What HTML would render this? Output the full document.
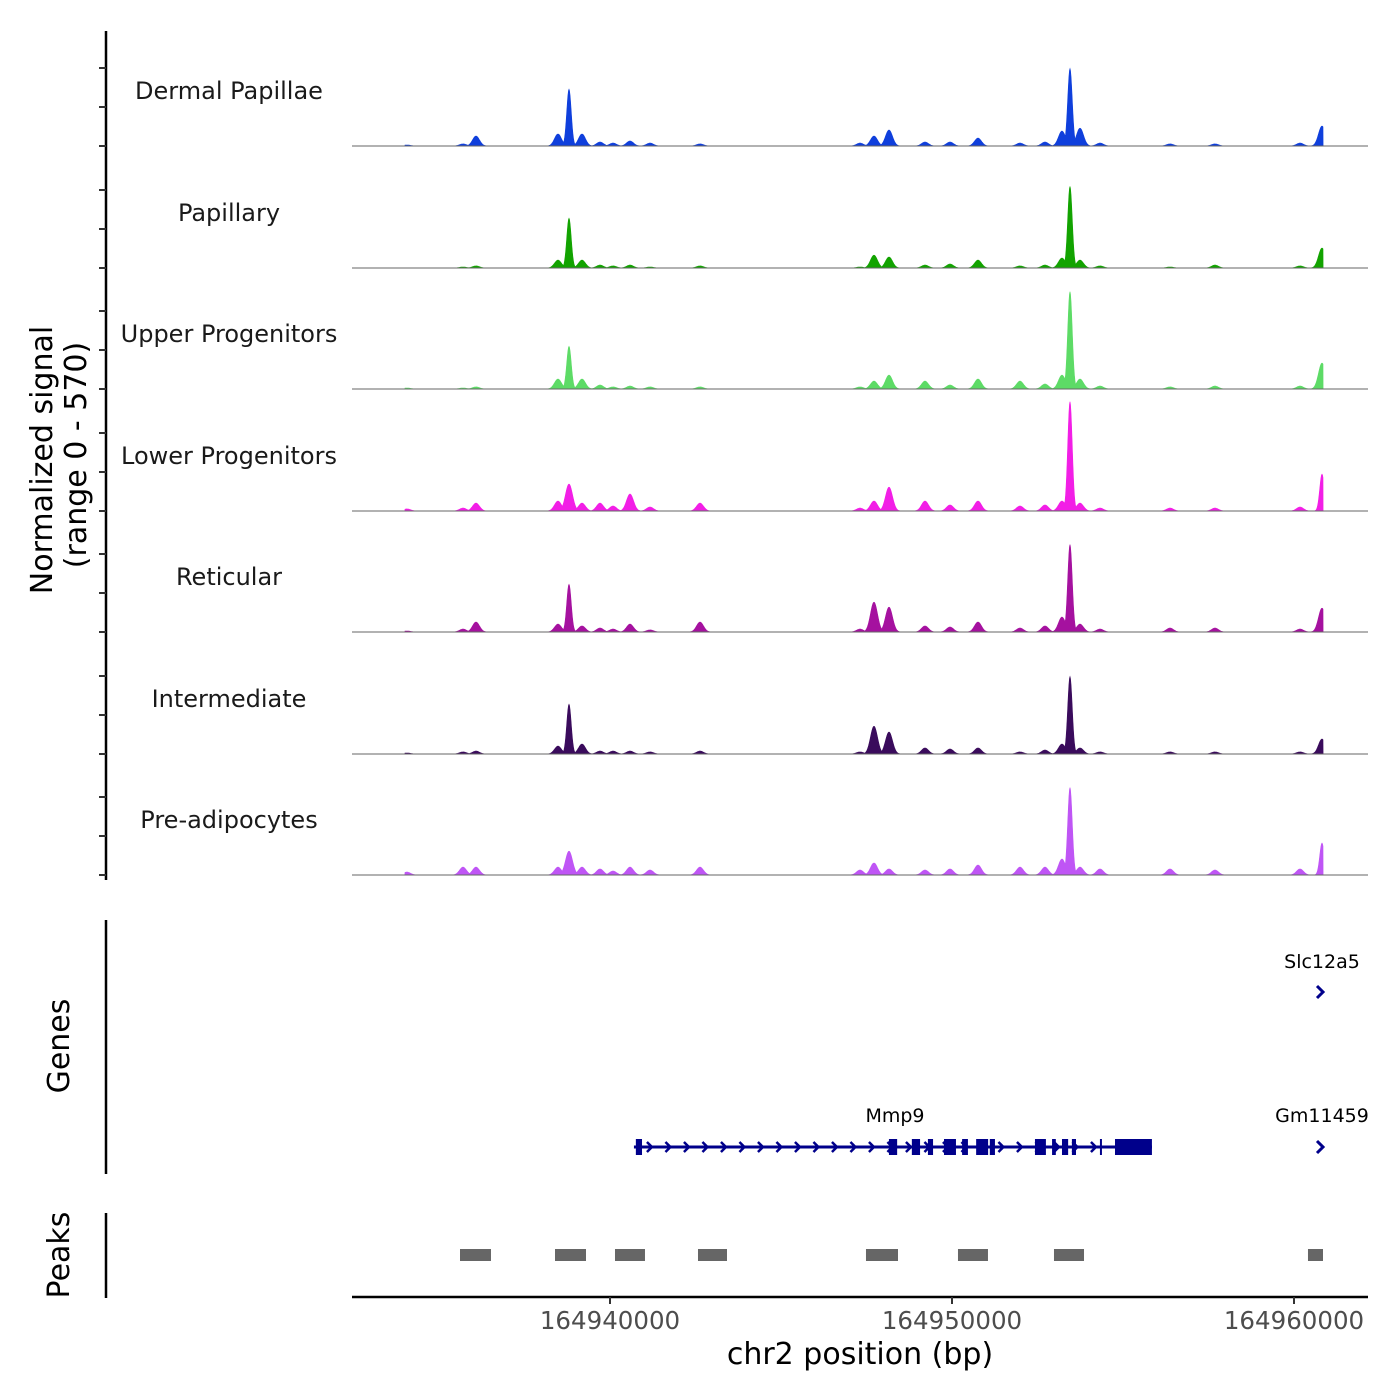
<!DOCTYPE html>
<html><head><meta charset="utf-8"><style>
body{margin:0;background:#fff}
svg{display:block;font-family:"DejaVu Sans","Liberation Sans",sans-serif}
</style></head><body>
<svg id="chart" width="1400" height="1400" viewBox="0 0 1400 1400" xmlns="http://www.w3.org/2000/svg">
<g id="tracks"></g>
<g id="genes"></g>
<g id="peaks"></g>
<g id="axes"></g>
</svg>
<script>
const regionStart = 164932456, regionEnd = 164962164;
const yMax = 570;
const trackNames = ["Dermal Papillae","Papillary","Upper Progenitors","Lower Progenitors","Reticular","Intermediate","Pre-adipocytes"];
const trackColors = ["#0f3fdc","#12a300","#5ddb66","#f21ee6","#a5119f","#3a0b5c","#bf55f5"];
const peakPositions = [164934064,164935702,164936082,164938479,164938801,164939181,164939708,164940088,164940585,164941170,164942632,164947310,164947719,164948158,164949211,164949942,164950760,164951988,164952719,164953216,164953450,164953743,164954328,164956375,164957690,164960176,164960819];
const dermalHeights = [5,10,48,58,274,58,19,14,24,14,10,14,48,77,19,19,38,14,19,72,374,86,14,10,10,14,96];
const papillaryHeights = [0,5,10,38,240,38,14,10,14,5,10,5,62,53,14,19,38,10,14,48,394,38,10,5,14,10,96];
const upperHeights = [5,5,10,48,206,48,19,10,14,10,10,10,38,67,38,19,48,38,24,67,470,48,14,10,14,14,125];
const lowerHeights = [10,14,38,48,130,38,38,24,82,19,38,14,48,115,48,29,48,24,29,48,528,38,14,14,14,19,178];
const reticularHeights = [5,14,48,38,230,29,19,14,38,10,48,14,144,120,29,24,48,19,29,72,422,38,14,19,19,14,115];
const intermediateHeights = [5,10,14,38,240,48,14,14,14,10,14,10,134,106,29,24,29,10,19,48,374,29,10,10,10,10,72];
const preadipoHeights = [14,38,38,38,115,38,29,19,38,24,38,24,58,29,24,29,48,38,38,77,422,38,29,29,24,29,154];
const trackHeights = [dermalHeights,papillaryHeights,upperHeights,lowerHeights,reticularHeights,intermediateHeights,preadipoHeights];
const signalStart = 164934000, signalEnd = 164960850;
const exonStarts = [164940756,164948156,164948826,164949296,164949766,164950296,164950706,164951106,164952426,164952926,164953216,164953506,164954326,164954766];
const exonEnds   = [164940936,164948396,164949066,164949446,164950116,164950466,164951056,164951256,164952746,164953036,164953396,164953626,164954356,164955846];
const geneStart = 164940700, geneEnd = 164955846;
const peakStarts = [164935614,164938392,164940146,164942573,164947485,164950175,164952982,164960409];
const peakEnds   = [164936520,164939298,164941023,164943421,164948421,164951052,164953860,164960848];
const xTicks = [164940000,164950000,164960000];

const NS="http://www.w3.org/2000/svg";
const X0=352,X1=1368;
function x(bp){return X0+(bp-regionStart)/(regionEnd-regionStart)*(X1-X0);}
function mk(tag,attrs,parent){const e=document.createElementNS(NS,tag);for(const k in attrs)e.setAttribute(k,attrs[k]);parent.appendChild(e);return e;}
const baselines=[146,268,389,511,632,754,875];
const trackPx=118;
const tracks=document.getElementById('tracks');
trackNames.forEach((nm,i)=>{
  const g=mk('g',{},tracks);
  
  
  const b=baselines[i];
  const hs=trackHeights[i];
  const xs=x(signalStart), xe=x(signalEnd);
  let d='M'+xs.toFixed(1)+','+b;
  for(let px=Math.ceil(xs);px<=xe;px+=0.5){
    let v=0;
    peakPositions.forEach((p,j)=>{const dx=px-x(p);const w=hs[j]>150?3.2:5;const val=hs[j]*Math.exp(-(dx/w)*(dx/w));if(val>v)v=val;});
    d+=' L'+px.toFixed(1)+','+(b-v/yMax*trackPx).toFixed(1);
  }
  d+=' L'+xe.toFixed(1)+','+b+' Z';
  const area=mk('path',{d:d,fill:trackColors[i],stroke:trackColors[i],'stroke-width':0.6},g);
  
  
  const base=mk('line',{x1:X0,x2:X1,y1:b,y2:b,stroke:'#666','stroke-width':1},g);
  
  
  const t=mk('text',{x:229,y:b-47,'text-anchor':'middle','font-size':24,fill:'#1a1a1a'},g);
  t.textContent=nm;
  
  
});
const axes=document.getElementById('axes');
mk('line',{x1:106,x2:106,y1:31,y2:880,stroke:'#000','stroke-width':2.5},axes);
baselines.forEach(b=>{[0,39,78].forEach(o=>{mk('line',{x1:99,x2:106,y1:b-o,y2:b-o,stroke:'#333','stroke-width':2},axes);});});
let yt=mk('text',{x:52,y:460,'text-anchor':'middle','font-size':30,transform:'rotate(-90 52 460)',fill:'#000'},axes);
yt.textContent='Normalized signal';


let yt2=mk('text',{x:86,y:455,'text-anchor':'middle','font-size':30,transform:'rotate(-90 86 455)',fill:'#000'},axes);
yt2.textContent='(range 0 - 570)';


mk('line',{x1:106,x2:106,y1:920,y2:1174,stroke:'#000','stroke-width':2.5},axes);
let gt=mk('text',{x:69,y:1046,'text-anchor':'middle','font-size':30,transform:'rotate(-90 69 1046)'},axes);
gt.textContent='Genes';


mk('line',{x1:106,x2:106,y1:1213,y2:1298,stroke:'#000','stroke-width':2.5},axes);
let pt=mk('text',{x:69,y:1255,'text-anchor':'middle','font-size':30,transform:'rotate(-90 69 1255)'},axes);
pt.textContent='Peaks';


mk('line',{x1:X0,x2:X1,y1:1297,y2:1297,stroke:'#000','stroke-width':2.5},axes);
xTicks.forEach(v=>{
  const xx=x(v);
  mk('line',{x1:xx,x2:xx,y1:1297,y2:1304,stroke:'#333','stroke-width':2},axes);
  const t=mk('text',{x:xx,y:1329,'text-anchor':'middle','font-size':24.5,fill:'#4d4d4d'},axes);
  t.textContent=String(v);
  
  
});
let xt=mk('text',{x:860,y:1364,'text-anchor':'middle','font-size':30},axes);
xt.textContent='chr2 position (bp)';



const genes=document.getElementById('genes');
const GC='#00008b', gy=1147;
mk('line',{x1:x(geneStart),x2:x(geneEnd),y1:gy,y2:gy,stroke:GC,'stroke-width':3},genes);
for(let ax=x(geneStart)+16;ax<x(geneEnd)-40;ax+=18.5){
  mk('path',{d:`M${ax-3},${gy-5} L${ax+2},${gy} L${ax-3},${gy+5}`,fill:'none',stroke:GC,'stroke-width':2.5},genes);
}
exonStarts.forEach((s,i)=>{
  const r=mk('rect',{x:x(s),y:gy-8,width:Math.max(2,x(exonEnds[i])-x(s)),height:16,fill:GC},genes);
  
  
});
[['Mmp9',895,1122],['Gm11459',1322,1122],['Slc12a5',1322,968]].forEach(a=>{
  const t=mk('text',{x:a[1],y:a[2],'text-anchor':'middle','font-size':19,fill:'#000'},genes);
  t.textContent=a[0];
  
  
});
[992,1147].forEach(yy=>{mk('path',{d:`M1317,${yy-6} L1323,${yy} L1317,${yy+6}`,fill:'none',stroke:GC,'stroke-width':3},genes);});

const peaks=document.getElementById('peaks');
peakStarts.forEach((s,i)=>{
  const r=mk('rect',{x:x(s),y:1249,width:x(peakEnds[i])-x(s),height:12,fill:'#666'},peaks);
  
  
});
</script>
</body></html>
